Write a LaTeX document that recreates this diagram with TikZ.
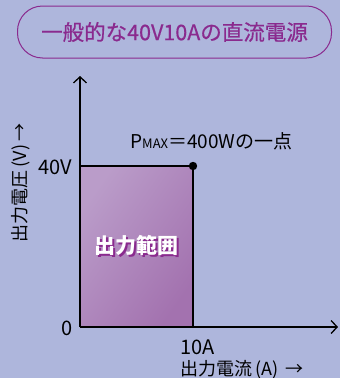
\documentclass[tikz,border=0pt]{standalone}
\usepackage{fontspec}
\setmainfont{Noto Sans CJK JP}
\newfontfamily\titlefont{Noto Sans CJK JP}[FakeBold=0.5]
\usepackage{xcolor}
\definecolor{bgblue}{HTML}{AEB6DC}
\definecolor{titlepurple}{HTML}{8A2A8E}
\definecolor{rangelight}{HTML}{BA9CC9}
\definecolor{rangedark}{HTML}{A372AF}
\usetikzlibrary{arrows.meta,positioning}

\begin{document}
\begin{tikzpicture}[x=1pt,y=-1pt,
    axis/.style={line width=1.3pt, -{Straight Barb[length=6pt,width=13pt,line width=1.3pt]}},
    lbl/.style={font=\fontsize{20}{20}\selectfont, inner sep=0pt},
    jplbl/.style={font=\fontsize{18}{18}\selectfont, inner sep=0pt},
    rangetext/.style={font=\fontsize{21}{21}\selectfont\bfseries, inner sep=0pt, text=white}]
    % background
    \fill[bgblue] (0,0) rectangle (340,378);
    \useasboundingbox (0,0) rectangle (340,378);

    % title box
    \node[draw=titlepurple, line width=1pt, rounded corners=25pt,
          minimum width=314pt, minimum height=52pt, text=titlepurple,
          font=\titlefont\fontsize{21.5}{22}\selectfont] (title) at (174.5,32)
          {一般的な40V10Aの直流電源};

    % axes
    \coordinate (o) at (80,327);
    \coordinate (ytop) at (80,76);
    \coordinate (xend) at (338,327);
    \coordinate (pmax) at (193,166);

    % output range
    \fill[left color=rangelight, right color=rangedark, shading angle=55]
        (o) rectangle (pmax);
    \draw[line width=1.3pt] (80,166) -- (pmax) -- (193,327);
    \fill (pmax) circle (4.2pt);
    \node[rangetext] (range) at (136.5,246.5)
        {\makebox[0pt][l]{\hspace{1.6pt}\raisebox{-1.8pt}{\color{titlepurple}出力範囲}}出力範囲};

    \draw[axis] (o) -- (ytop);
    \draw[axis] (o) -- (xend);

    % labels
    \node[lbl, anchor=east] (v40) at (72.5,167) {40V};
    \node[lbl, anchor=east] (zero) at (73,328) {0};
    \node[lbl, anchor=north west] (a10) at (180,340) {10A};
    \node[jplbl, anchor=base west] (xlabel) at (180,375.5) {出力電流\,(A)\, →};
    \node[anchor=base west, inner sep=0pt, font=\fontsize{19}{19}\selectfont] (pmaxlbl) at (130,148)
        {P{\fontsize{13}{13}\selectfont MAX}＝400Wの一点};
    \node[jplbl, rotate=90] (ylabel) at (21,183) {出力電圧\,(V)\,→};
\end{tikzpicture}
\end{document}
